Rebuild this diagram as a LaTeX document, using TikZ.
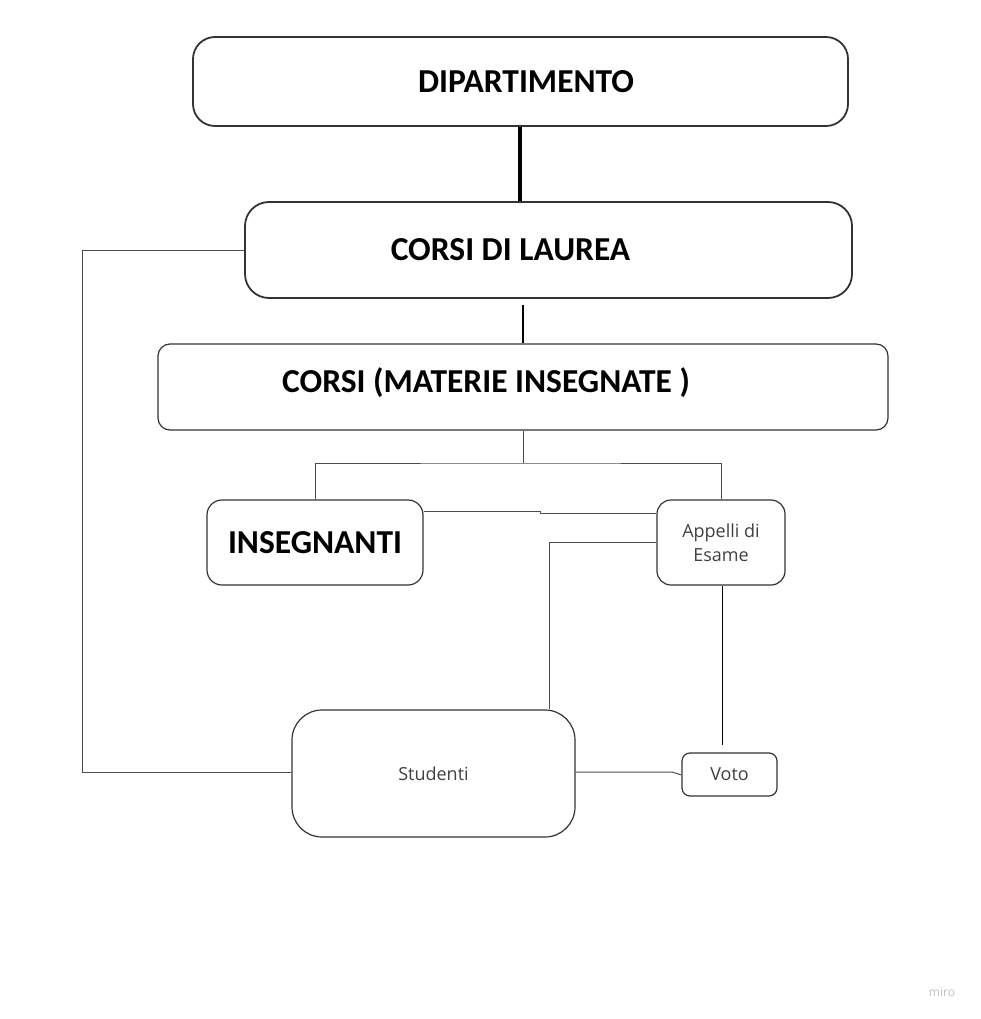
\documentclass[tikz,border=0pt]{standalone}
\usepackage{fontspec}
\setmainfont{Carlito}
\newfontfamily\smallfont{Open Sans}
\begin{document}
\begin{tikzpicture}[x=1pt,y=-1pt,
  box/.style={draw=black!80, line width=1.2pt, rounded corners=#1, inner sep=0pt},
  box/.default=14pt,
  title/.style={font=\fontsize{33.5}{36}\selectfont\bfseries, text=black},
  small/.style={font=\smallfont\fontsize{18}{24}\selectfont, text=black!75},
  conn/.style={draw=black!70, line width=1pt},
]
\useasboundingbox (0,0) rectangle (980,1019);
% boxes
\node[box=22pt, line width=1.8pt, minimum width=655pt, minimum height=89pt,
  label={[title, xshift=5.5pt]center:DIPARTIMENTO}] (dip) at (520.5,81.5) {};
\node[box=24pt, line width=1.8pt, minimum width=607pt, minimum height=96pt,
  label={[title, xshift=-38pt]center:CORSI DI LAUREA}] (cdl) at (548.5,250) {};
\node[box=12pt, minimum width=730pt, minimum height=86pt,
  label={[title, xshift=-37pt, yshift=4pt]center:CORSI (MATERIE INSEGNATE )}] (corsi) at (523,387) {};
\node[box=15pt, minimum width=216pt, minimum height=85pt, title] (ins) at (315,542.5) {INSEGNANTI};
\node[box=14pt, minimum width=128pt, minimum height=85pt, small, align=center] (app) at (721,542.5) {Appelli di\\Esame};
\node[box=30pt, minimum width=283pt, minimum height=127pt, small] (stu) at (433.5,773.5) {Studenti};
\node[box=8pt, minimum width=95pt, minimum height=43pt, small] (voto) at (729.5,774.5) {Voto};
\node[font=\smallfont\fontsize{12}{14}\selectfont, text=black!25] (miro) at (942,992) {miro};
% connectors
\draw[line width=4.5pt, black] (dip.south -| 520,0) -- (cdl.north -| 520,0);
\draw[line width=2.5pt, black] (523,305) coordinate (c1) -- (corsi.north -| c1);
\coordinate (j) at (523,463);
\draw[conn] (corsi.south -| j) -- (j);
\draw[conn] (ins.north) |- (j) -| (app.north);
\draw[conn] (ins.east |- 0,511) -- (540,511) -- (540,513) -- (app.west |- 0,513);
\draw[conn] (app.west |- 0,542) -| (stu.north -| 549,0);
\draw[conn, black] (app.south -| 722,0) -- (722,745) coordinate (vt);
\draw[conn] (stu.east |- 0,772) -- (672,772) -- (voto.west |- 0,775);
\draw[conn] (cdl.west) -- (82,250) |- (stu.west |- 0,772);
\end{tikzpicture}
\end{document}
